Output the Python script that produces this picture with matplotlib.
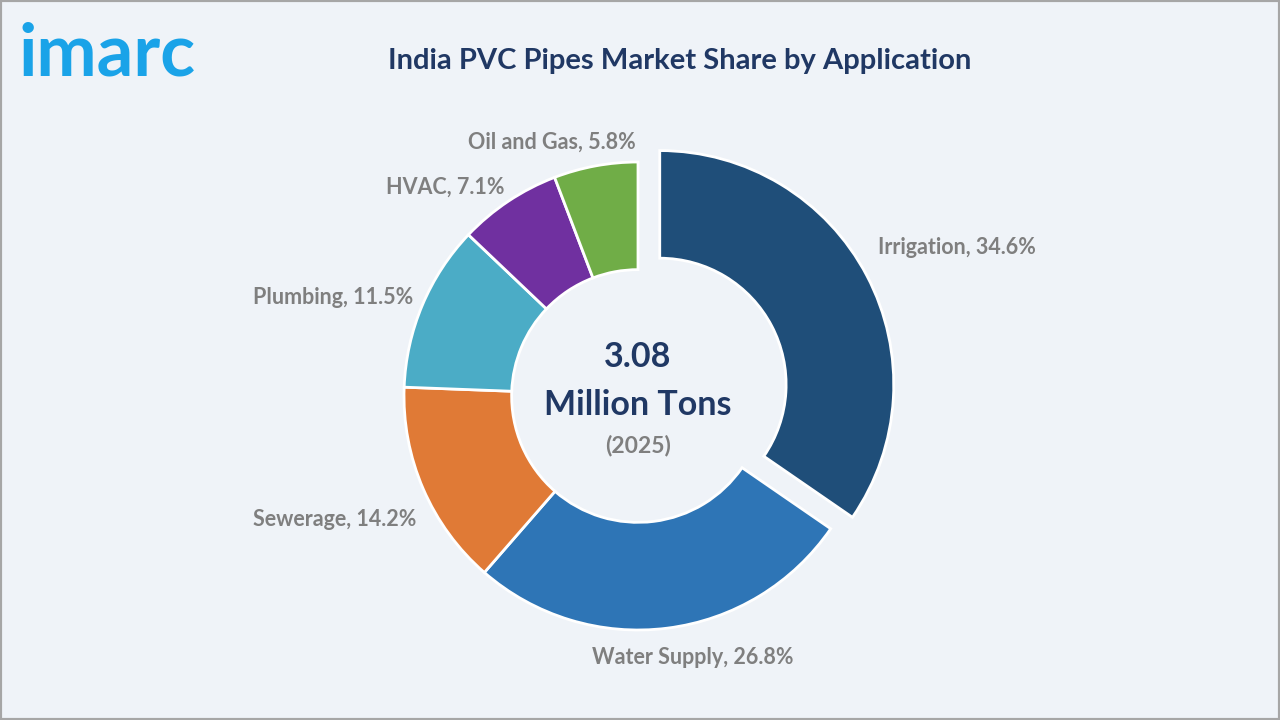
import matplotlib.pyplot as plt
from matplotlib.patches import Rectangle

BG = '#EFF3F8'
NAVY = '#203864'
GRAY = '#7F7F7F'

# Data
categories = ['Irrigation', 'Water Supply', 'Sewerage', 'Plumbing', 'HVAC', 'Oil and Gas']
shares = [34.6, 26.8, 14.2, 11.5, 7.1, 5.8]
colors = ['#1F4E79', '#2E75B6', '#E07A36', '#4BACC6', '#7030A0', '#70AD47']
explode_frac = [0.105, 0, 0, 0, 0, 0]
total_value = '3.08'
unit = 'Million Tons'
year = '(2025)'

plt.rcParams['font.family'] = ['Lato', 'DejaVu Sans']

fig = plt.figure(figsize=(12.8, 7.2), dpi=100, facecolor=BG)
ax = fig.add_axes([0, 0, 1, 1])

# donut, pixel coords (y measured from bottom)
cx, cy, r = 638, 720 - 396, 234
# pie's explode is in data units, so scale by the radius
wedges, _ = ax.pie(shares, colors=colors, explode=[e * r for e in explode_frac],
                   startangle=90, counterclock=False, center=(cx, cy), radius=r,
                   wedgeprops=dict(width=0.46 * r, edgecolor='white', linewidth=2))
ax.set_xlim(0, 1280)
ax.set_ylim(0, 720)
ax.set_aspect('equal')
ax.axis('off')

# labels placed by hand, like the original
label_pos = [
    (878, 247, 'left'),
    (693, 657, 'center'),
    (416, 520, 'right'),
    (413, 298, 'right'),
    (505, 187, 'right'),
    (636, 142, 'right'),
]
for cat, val, (x, y, ha) in zip(categories, shares, label_pos):
    ax.text(x, 720 - y, f'{cat}, {val}%', ha=ha, va='center',
            fontsize=15.5, color=GRAY, fontweight='bold')

# center text
ax.text(cx, 720 - 357, total_value, ha='center', va='center',
        fontsize=24.5, color=NAVY, fontweight='bold')
ax.text(cx, 720 - 405, unit, ha='center', va='center',
        fontsize=24.5, color=NAVY, fontweight='bold')
ax.text(cx, 720 - 446, year, ha='center', va='center',
        fontsize=16.5, color=GRAY, fontweight='bold')

# title and logo
ax.text(680, 720 - 61, 'India PVC Pipes Market Share by Application',
        ha='center', va='center', fontsize=21, color=NAVY, fontweight='bold')
ax.text(18, 720 - 75, 'imarc', ha='left', va='baseline',
        fontsize=52, color='#1AA3E8', fontweight='bold')

# frame
fig.patches.append(Rectangle((0, 0), 1, 1, transform=fig.transFigure,
                             fill=False, edgecolor='#A6A6A6', linewidth=3))

fig.savefig('out.png', dpi=100, facecolor=BG)
plt.close()
